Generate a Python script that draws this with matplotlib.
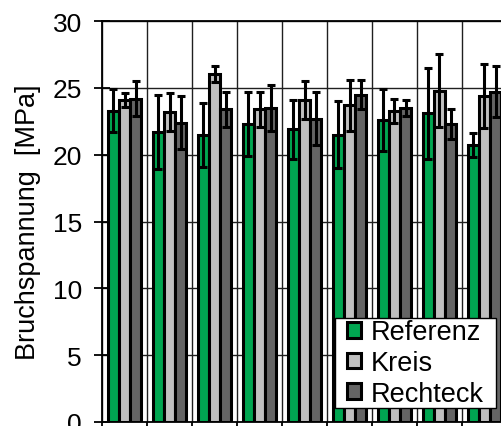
import numpy as np
from matplotlib import pyplot as plt

series = ['Referenz', 'Kreis', 'Rechteck']
colors = ['#00a651', '#c0c0c0', '#646464']

referenz = [23.3, 21.7, 21.5, 22.3, 21.9, 21.5, 22.6, 23.1, 20.7]
kreis = [24.1, 23.2, 26.0, 23.4, 24.1, 23.7, 23.3, 24.8, 24.4]
rechteck = [24.2, 22.4, 23.4, 23.5, 22.7, 24.5, 23.5, 22.3, 24.7]

referenz_err = [1.6, 2.8, 2.4, 2.4, 2.2, 2.5, 2.3, 3.4, 0.9]
kreis_err = [0.5, 1.4, 0.6, 1.3, 1.4, 1.9, 0.9, 2.7, 2.4]
rechteck_err = [1.3, 2.0, 1.3, 1.7, 2.0, 1.1, 0.6, 1.1, 1.9]

values = [referenz, kreis, rechteck]
errors = [referenz_err, kreis_err, rechteck_err]

plt.rcParams['font.family'] = ['Liberation Sans', 'DejaVu Sans']

fig = plt.figure(figsize=(5.02, 4.27), dpi=100)
# axes runs past the right edge, the reference is cropped there
ax = fig.add_axes([102/502, 4/427, 405/502, 401/427])

n = len(referenz)
x = np.arange(n) + 0.5
w = 0.245

for i in range(3):
    pos = x + (i - 1) * w
    ax.bar(pos, values[i], width=w, color=colors[i], edgecolor='black',
           linewidth=2.2, label=series[i], zorder=3)
    ax.errorbar(pos, values[i], yerr=errors[i], fmt='none', ecolor='black',
                elinewidth=2.2, capsize=2.8, capthick=2.2, zorder=4)

ax.set_xlim(0, n)
ax.set_ylim(0, 30)
ax.set_yticks(np.arange(0, 31, 5))
ax.set_xticks(np.arange(0, n + 1))
ax.set_xticklabels([])
ax.tick_params(axis='y', direction='inout', length=11, width=1.3, labelsize=19, pad=9)
ax.tick_params(axis='x', direction='out', length=5, width=1.3)
ax.grid(True, color='#202020', linewidth=1.0, zorder=0)
ax.set_axisbelow(True)
for s in ax.spines.values():
    s.set_linewidth(1.3)

ax.set_ylabel('Bruchspannung  [MPa]', fontsize=19.5, labelpad=8)

leg = ax.legend(loc='lower right', bbox_to_anchor=(0.943, 0.037), fontsize=19.5,
                frameon=True, fancybox=False, edgecolor='black', framealpha=1,
                handlelength=0.5, handleheight=0.5, handletextpad=0.35,
                borderpad=0.02, labelspacing=0.17, borderaxespad=0)
# wide padding left/right, tight top/bottom like the original box
frame = leg.get_frame()
frame.set_linewidth(1.0)
frame.set_boxstyle('square', pad=0.45)
frame.set_mutation_aspect(0.05)
for h in leg.legend_handles:
    h.set_linewidth(2.2)

fig.savefig('out.png', dpi=100)
